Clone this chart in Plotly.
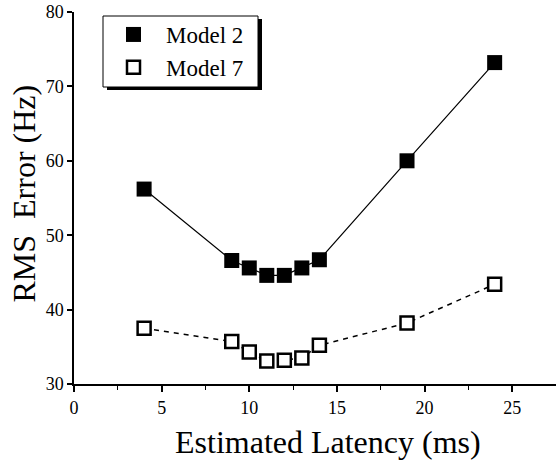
import plotly.graph_objects as go

latency = [4, 9, 10, 11, 12, 13, 14, 19, 24]
model2 = [56.2, 46.6, 45.6, 44.6, 44.6, 45.6, 46.7, 60.0, 73.2]
model7 = [37.5, 35.7, 34.3, 33.1, 33.2, 33.5, 35.2, 38.2, 43.4]
x_ticks = [0, 5, 10, 15, 20, 25]
y_ticks = [30, 40, 50, 60, 70, 80]

FONT = "Liberation Serif"

# plot-area geometry in pixels (for the legend frame)
L, T, W, H = 74, 12, 482, 372


def px(x):
    return (x - L) / W


def py(y):
    return (T + H - y) / H


fig = go.Figure()
fig.add_trace(go.Scatter(x=latency, y=model2, mode="lines",
                         line=dict(color="black", width=1.2), showlegend=False,
                         hoverinfo="skip"))
fig.add_trace(go.Scatter(x=latency, y=model7, mode="lines",
                         line=dict(color="black", width=1.5, dash="5px,5px"),
                         showlegend=False, hoverinfo="skip"))
fig.add_trace(go.Scatter(x=latency, y=model2, mode="markers", name="Model 2",
                         marker=dict(symbol="square", size=15, color="black",
                                     line=dict(width=0))))
fig.add_trace(go.Scatter(x=latency, y=model7, mode="markers", name="Model 7",
                         marker=dict(symbol="square", size=13, color="white",
                                     line=dict(color="black", width=2.5))))

fig.update_layout(
    width=556, height=460,
    margin=dict(l=L, r=0, t=T, b=460 - T - H),
    paper_bgcolor="white", plot_bgcolor="white",
    font=dict(family=FONT, color="black", size=17),
    showlegend=True,
    legend=dict(x=px(101), y=py(13), xanchor="left", yanchor="top",
                bgcolor="rgba(0,0,0,0)", borderwidth=0,
                font=dict(family=FONT, size=23, color="black"),
                itemwidth=55),
    xaxis=dict(range=[0, 27.5], tickvals=x_ticks, showgrid=False, zeroline=False,
               showline=True, linecolor="black", linewidth=2,
               ticks="outside", ticklen=6, tickwidth=1.5, tickcolor="black",
               minor=dict(dtick=2.5, ticks="outside", ticklen=4, tickwidth=1.2,
                          tickcolor="black", showgrid=False),
               tickfont=dict(family=FONT, size=18, color="black")),
    yaxis=dict(range=[30, 80], tickvals=y_ticks, showgrid=False, zeroline=False,
               showline=True, linecolor="black", linewidth=1.5,
               ticks="outside", ticklen=5, tickwidth=1.5, tickcolor="black",
               tickfont=dict(family=FONT, size=18, color="black")),
    annotations=[
        dict(text="Estimated Latency (ms)", xref="paper", yref="paper",
             x=0.527, y=-0.156, xanchor="center", yanchor="middle",
             showarrow=False, font=dict(family=FONT, size=32, color="black")),
        dict(text="RMS\u00a0 Error (Hz)", xref="paper", yref="paper",
             x=-0.103, y=0.513, xanchor="center", yanchor="middle",
             textangle=-90, showarrow=False,
             font=dict(family=FONT, size=32, color="black")),
    ],
    shapes=[
        # legend drop shadow
        dict(type="rect", xref="paper", yref="paper",
             x0=px(107), x1=px(262), y0=py(90), y1=py(19),
             fillcolor="black", line=dict(width=0), layer="above"),
        # legend frame
        dict(type="rect", xref="paper", yref="paper",
             x0=px(103), x1=px(258), y0=py(87), y1=py(16),
             fillcolor="white", line=dict(color="black", width=1), layer="above"),
    ],
)

fig.write_html("out.html")
